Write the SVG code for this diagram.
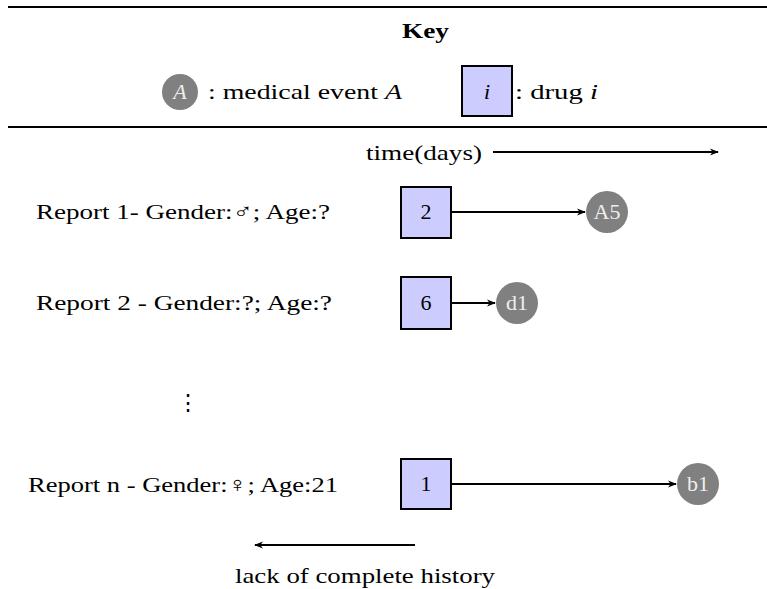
<svg xmlns="http://www.w3.org/2000/svg" width="767" height="589" viewBox="0 0 767 589">
<defs>
<style>
text{font-family:"Liberation Serif","DejaVu Serif",serif;font-size:22px;fill:#000}
.ev{fill:#808080}
.evt{fill:#eeeeee;text-anchor:middle}
.drug{fill:#ccccff;stroke:#000;stroke-width:2}
.dt{text-anchor:middle}
.ln{stroke:#000;stroke-width:2;fill:none}
.rule{stroke:#000;stroke-width:2}
</style>
<marker id="ah" viewBox="0 0 10 10" refX="9" refY="5" markerWidth="9" markerHeight="9" orient="auto-start-reverse" markerUnits="userSpaceOnUse">
<path d="M0,1 L10,5 L0,9 L3,5 Z" fill="#000"/>
</marker>
</defs>
<rect width="767" height="589" fill="#fff"/>
<line class="rule" x1="8" y1="7" x2="767" y2="7"/>
<text x="402" y="38" font-weight="bold" textLength="47" lengthAdjust="spacingAndGlyphs">Key</text>
<g id="key-event">
<circle class="ev" cx="180" cy="92" r="18"/>
<text class="evt" x="180" y="99" font-style="italic">A</text>
<text x="208" y="99" textLength="194" lengthAdjust="spacingAndGlyphs">: medical event <tspan font-style="italic">A</tspan></text>
</g>
<g id="key-drug">
<rect class="drug" x="462" y="66" width="50" height="50"/>
<text class="dt" x="487" y="99" font-style="italic">i</text>
<text x="515" y="99" textLength="83" lengthAdjust="spacingAndGlyphs">: drug <tspan font-style="italic">i</tspan></text>
</g>
<line class="rule" x1="8" y1="127" x2="767" y2="127"/>
<text x="366" y="160" textLength="116" lengthAdjust="spacingAndGlyphs">time(days)</text>
<text x="36" y="219" textLength="294" lengthAdjust="spacingAndGlyphs">Report 1- Gender:♂; Age:?</text>
<text x="36" y="310" textLength="296" lengthAdjust="spacingAndGlyphs">Report 2 - Gender:?; Age:?</text>
<text x="177" y="410">⋮</text>
<text x="28" y="492" textLength="310" lengthAdjust="spacingAndGlyphs">Report n - Gender:♀; Age:21</text>
<g id="drug2"><rect class="drug" x="401" y="187" width="50" height="51"/><text class="dt" x="426" y="219">2</text></g>
<g id="eventA5"><circle class="ev" cx="607" cy="212" r="21"/><text class="evt" x="607" y="219">A5</text></g>
<g id="drug6"><rect class="drug" x="401" y="277" width="50" height="52"/><text class="dt" x="426" y="310">6</text></g>
<g id="eventd1"><circle class="ev" cx="517" cy="303" r="21"/><text class="evt" x="517" y="310">d1</text></g>
<g id="drug1"><rect class="drug" x="401" y="459" width="50" height="50"/><text class="dt" x="426" y="491">1</text></g>
<g id="eventb1"><circle class="ev" cx="698" cy="484" r="21"/><text class="evt" x="698" y="491">b1</text></g>
<text x="235" y="583" textLength="260" lengthAdjust="spacingAndGlyphs">lack of complete history</text>
<g id="connectors">
<line class="ln" x1="493" y1="152" x2="718" y2="152" marker-end="url(#ah)"/>
<line class="ln" x1="451" y1="212" x2="585" y2="212" marker-end="url(#ah)"/>
<line class="ln" x1="451" y1="303" x2="495" y2="303" marker-end="url(#ah)"/>
<line class="ln" x1="451" y1="484" x2="676" y2="484" marker-end="url(#ah)"/>
<line class="ln" x1="415" y1="545" x2="255" y2="545" marker-end="url(#ah)"/>
</g>
</svg>
